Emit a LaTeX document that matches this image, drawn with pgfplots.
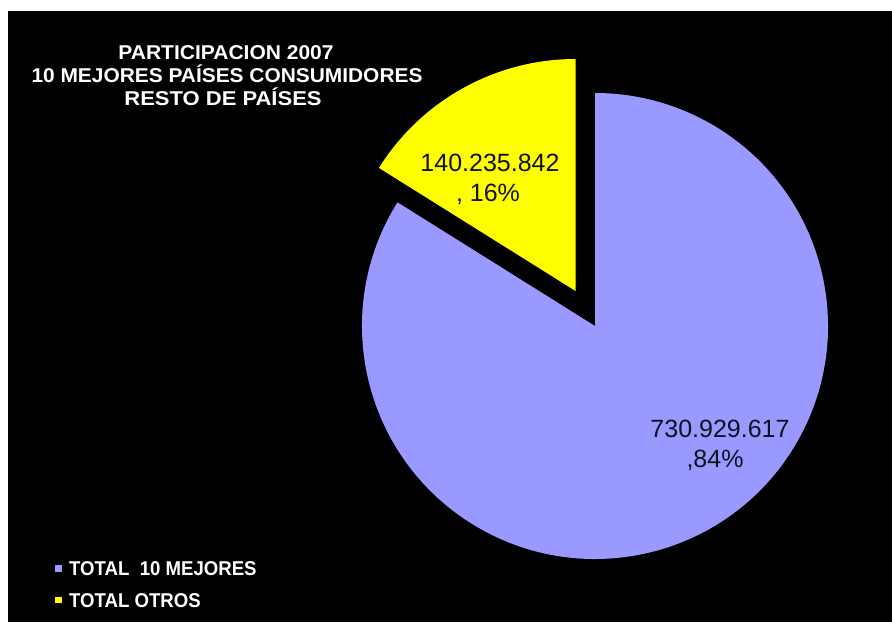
\documentclass[border=0pt]{standalone}
\usepackage{pgfplots}
\pgfplotsset{compat=1.18}
\usepackage{fontspec}
\setmainfont{Liberation Sans}
\definecolor{pieblue}{HTML}{9999FF}
\definecolor{pieyellow}{HTML}{FFFF00}
\definecolor{labtxt}{HTML}{111122}
\begin{document}
\begin{tikzpicture}
% data (values in millions)
\pgfmathsetmacro{\va}{730.929617}% TOTAL 10 MEJORES
\pgfmathsetmacro{\vb}{140.235842}% TOTAL OTROS
\pgfmathsetmacro{\fb}{\vb/(\va+\vb)}
\pgfmathsetmacro{\ab}{360*\fb}
\pgfmathsetmacro{\sa}{90+\ab}
\pgfmathsetmacro{\mid}{90+\ab/2}
\pgfmathsetmacro{\yx}{595+40*cos(\mid)}
\pgfmathsetmacro{\yy}{296+40*sin(\mid)}
\begin{axis}[width=892pt,height=622pt,scale only axis,hide axis,
  xmin=0,xmax=892,ymin=0,ymax=622,clip=false]
\fill[white] (axis cs:0,0) rectangle (axis cs:892,622);
\fill[black] (axis cs:8,0) rectangle (axis cs:892,611);
\fill[pieblue] (axis cs:595,296) -- ++(\sa:233pt) arc[start angle=\sa, end angle=450, radius=233pt] -- cycle;
\fill[pieyellow] (axis cs:\yx,\yy) -- ++(90:232pt) arc[start angle=90, end angle=\sa, radius=232pt] -- cycle;
% data labels
\node[anchor=base,font=\fontsize{25}{30}\selectfont,text=labtxt,inner sep=0] at (axis cs:490,450) {140.235.842};
\node[anchor=base,font=\fontsize{25}{30}\selectfont,text=labtxt,inner sep=0] at (axis cs:488,420) {, 16\%};
\node[anchor=base,font=\fontsize{25}{30}\selectfont,text=labtxt,inner sep=0] at (axis cs:720,185) {730.929.617};
\node[anchor=base,font=\fontsize{25}{30}\selectfont,text=labtxt,inner sep=0] at (axis cs:715,155) {,84\%};
% title
\node[anchor=base,font=\fontsize{20}{23}\selectfont\bfseries,text=white,inner sep=0] at (axis cs:226,562) {\scalebox{1.05}[1]{PARTICIPACION 2007}};
\node[anchor=base,font=\fontsize{20}{23}\selectfont\bfseries,text=white,inner sep=0] at (axis cs:227,539) {\scalebox{1.045}[1]{10 MEJORES PAÍSES CONSUMIDORES}};
\node[anchor=base,font=\fontsize{20}{23}\selectfont\bfseries,text=white,inner sep=0] at (axis cs:223,516) {\scalebox{1.1}[1]{RESTO DE PAÍSES}};
% legend
\fill[pieblue] (axis cs:55,50) rectangle (axis cs:62,57);
\fill[pieyellow] (axis cs:55,19) rectangle (axis cs:62,25);
\node[anchor=base west,font=\fontsize{20}{23}\selectfont\bfseries,text=white,inner sep=0] at (axis cs:69,47) {\scalebox{0.93}[1]{TOTAL\ \ 10 MEJORES}};
\node[anchor=base west,font=\fontsize{20}{23}\selectfont\bfseries,text=white,inner sep=0] at (axis cs:69,15) {\scalebox{0.93}[1]{TOTAL OTROS}};
\end{axis}
\end{tikzpicture}
\end{document}
